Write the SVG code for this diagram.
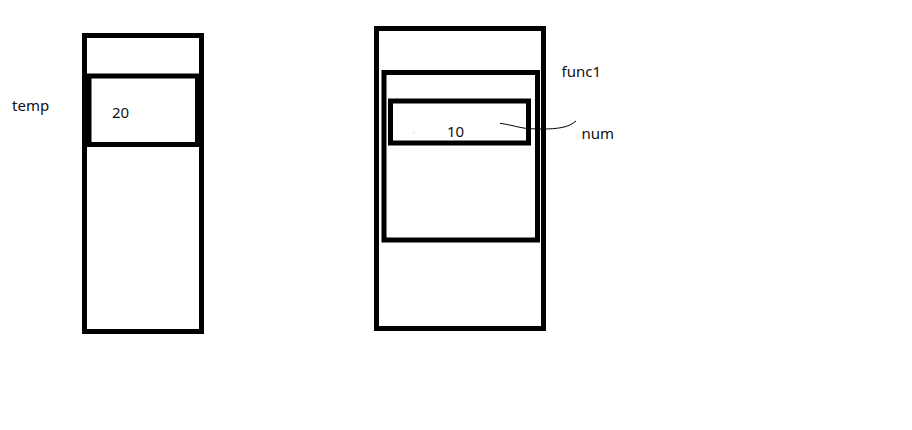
<svg xmlns="http://www.w3.org/2000/svg" width="912" height="430" viewBox="0 0 912 430">
<style>
.box{fill:none;stroke:#000;stroke-width:5}
.lbl{font-family:"Noto Sans","Open Sans","DejaVu Sans",sans-serif;font-size:15px;fill:#111}
.conn{fill:none;stroke:#000;stroke-width:1}
</style>
<rect x="0" y="0" width="912" height="430" fill="#fff"/>
<g id="temp-stack">
<rect class="box" x="84.5" y="35.5" width="117" height="296"/>
<rect class="box" x="89" y="76" width="108.5" height="68.5"/>
<text class="lbl" x="112" y="118">20</text>
</g>
<g id="temp-label">
<text class="lbl" x="12" y="111">temp</text>
</g>
<g id="main-stack">
<rect class="box" x="376.5" y="28.5" width="167" height="300"/>
</g>
<g id="func1-frame">
<rect class="box" x="384" y="72.5" width="153.5" height="167.5"/>
<text class="lbl" x="561.5" y="77">func1</text>
</g>
<g id="num-var">
<rect class="box" x="390.5" y="101" width="138" height="42"/>
<text class="lbl" x="447" y="137">10</text>
<circle cx="414" cy="132.5" r="0.8" fill="#f0c890"/>
</g>
<g id="num-label">
<text class="lbl" x="581.5" y="139">num</text>
</g>
<g id="connectors">
<path class="conn" d="M500,123.3 C512,125 520,128 528,128.5 C540,129.3 556,129.5 566,126.5 C571,125 573,123 576,121"/>
</g>
</svg>
